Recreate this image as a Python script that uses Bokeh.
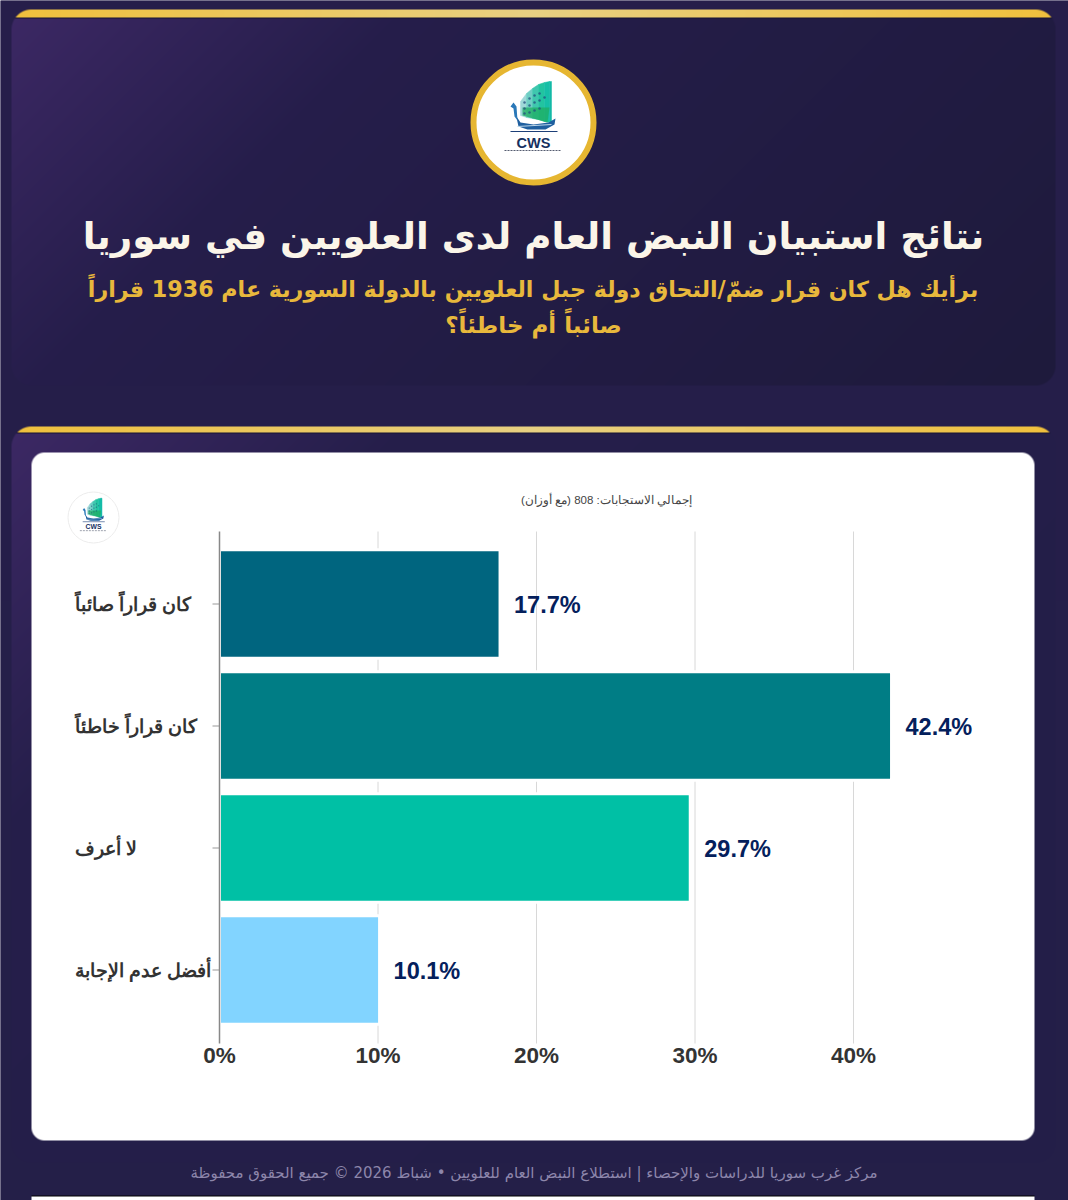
import numpy as np
from bokeh.core.properties import value
from bokeh.plotting import figure
from bokeh.models import LinearAxis, FixedTicker, Range1d, ColumnDataSource
from bokeh.embed import file_html
from bokeh.resources import INLINE

# ---- data ----
categories = ["كان قراراً صائباً", "كان قراراً خاطئاً", "لا أعرف", "أفضل عدم الإجابة"]
values = [17.7, 42.4, 29.7, 10.1]
bar_colors = ["#00657f", "#007d85", "#00c0a5", "#82d4ff"]
tick_values = [0, 10, 20, 30, 40]
tick_labels = ["0%", "10%", "20%", "30%", "40%"]
title_text = "نتائج استبيان النبض العام لدى العلويين في سوريا"
subtitle_1 = "برأيك هل كان قرار ضمّ/التحاق دولة جبل العلويين بالدولة السورية عام 1936 قراراً"
subtitle_2 = "صائباً أم خاطئاً؟"
responses_text = "إجمالي الاستجابات: 808 (مع أوزان)"
footer_text = "مركز غرب سوريا للدراسات والإحصاء | استطلاع النبض العام للعلويين • شباط 2026 © جميع الحقوق محفوظة"

# ---- page geometry (page pixels) ----
W, H = 1068, 1200
PX_PER_X = 15.85
PX_PER_ROW = 122
X0_PX = 219
LAST_ROW_PX = 969.5
def X(px): return (px - X0_PX) / PX_PER_X
def Y(py): return (LAST_ROW_PX - py) / PX_PER_ROW

p = figure(width=W, height=H, output_backend="svg", toolbar_location=None,
           x_range=Range1d(X(0), X(W)), y_range=Range1d(Y(H), Y(0)),
           x_axis_type=None, y_axis_type=None, min_border=0, outline_line_color=None,
           background_fill_color="#261e4a", border_fill_color="#261e4a")
p.grid.visible = False

# ---- decorative backdrop ----
yy, xx = np.mgrid[0:H, 0:W] + 0.5
def rrect(x0, y0, x1, y1, r):
    cx, cy = (x0 + x1) / 2, (y0 + y1) / 2
    qx = np.abs(xx - cx) - ((x1 - x0) / 2 - r)
    qy = np.abs(yy - cy) - ((y1 - y0) / 2 - r)
    d = np.hypot(np.maximum(qx, 0), np.maximum(qy, 0)) + np.minimum(np.maximum(qx, qy), 0) - r
    return np.clip(0.5 - d, 0, 1)
v = (yy / H)[..., None]
img = np.array([38, 30, 74]) * (1 - v) + np.array([36, 31, 72]) * v
def over(mask, col):
    global img
    img = img * (1 - mask[..., None]) + col * mask[..., None]
def panel(x0, y0, x1, y1, bar_h, mid, end):
    m = rrect(x0, y0, x1, y1, 20)
    d = (xx - x0) + (yy - y0)
    t = np.clip(d / 400, 0, 1)[..., None]
    t2 = np.clip((d - 400) / 980, 0, 1)[..., None]
    col = (np.array([60, 40, 100]) * (1 - t) + np.array(mid) * t) * (1 - t2) + np.array(end) * t2
    over(m, col)
    over(m * np.clip(y0 + bar_h + 1.5 - yy, 0, 1), np.array([24, 20, 50]))
    u = np.abs((xx - (x0 + x1) / 2) / ((x1 - x0) / 2))[..., None]
    gold = np.array([232, 208, 130]) * (1 - u) + np.array([240, 192, 60]) * u
    over(m * np.clip(y0 + bar_h + .5 - yy, 0, 1), gold)
panel(11, 9, 1055, 385, 8, (37, 29, 74), (30, 26, 60))
panel(11, 426, 1055, 1162, 6, (37, 30, 74), (35, 30, 72))
over(rrect(31, 452, 1034, 1140, 13), np.array([255, 255, 255]))
over(rrect(31, 1195, 1034, 1196, 0), np.array([0, 0, 0]))
over(rrect(31, 1196, 1034, 1200, 0), np.array([255, 255, 255]))
rgba = np.dstack([img, np.full((H, W), 255.0)]).round().astype(np.uint8)[::-1]
p.image_rgba(image=[rgba.view(np.uint32).reshape(H, W)], x=X(0), y=Y(H),
             dw=W / PX_PER_X, dh=H / PX_PER_ROW)

# ---- logo drawn with glyphs ----
def logo(cx, cy, s, ring_size, ring_color, ring_width):
    p.scatter([X(cx)], [Y(cy)], size=ring_size, fill_color="white",
              line_color=ring_color, line_width=ring_width)
    def pt(x, y): return [X(cx + v * s) for v in x], [Y(cy + v * s) for v in y]
    strips = ["#9fd8d8", "#6fcfc4", "#3fc7ae", "#22c4a0", "#16bfa6", "#12b9a6"]
    edges_x = [-13, -7, -1, 5, 11, 16, 18]
    top = [-21, -29, -34, -38, -40, -41, -41]
    bot = [-7, -5, -4, -3, -1, 0, 0]
    for i, c in enumerate(strips):
        xs, ys = pt([edges_x[i], edges_x[i + 1], edges_x[i + 1], edges_x[i]],
                    [top[i], top[i + 1], bot[i + 1], bot[i]])
        p.patch(xs, ys, fill_color=c, line_color=c, line_width=0.5)
    xs, ys = pt([-11, 16, 14, -11], [-15, -15, 0, -7])
    p.patch(xs, ys, fill_color="#1fae62", line_color=None, fill_alpha=0.75)
    dx = np.array([-9, -4, 1, 6, -9, -4, 1, 6, 11, -9, -4, 1, 6])
    dy = np.array([-20, -24, -27, -29, -14, -17, -20, -22, -25, -9, -10, -12, -14])
    xs, ys = pt(dx, dy)
    p.scatter(xs, ys, size=max(1.2, 2.5 * s), fill_color="#21507f", line_color=None, fill_alpha=0.75)
    xs, ys = pt([-19, -17, -13, 0, 15, 22, 21, 12, -6, -15],
                [-14, -6, 0, 2, 0, -4, 2, 7, 7, 4])
    p.patch(xs, ys, fill_color="#1f5f9f", line_color=None)
    xs, ys = pt([-23, -20, -17, -16, -19, -20], [-16, -20, -16, -2, -6, -14])
    p.patch(xs, ys, fill_color="#2a78b8", line_color=None)
    xs, ys = pt([-16, 18], [4, 2])
    p.line(xs, ys, line_color="#bcd7ea", line_width=max(0.4, 1 * s))
    xs, ys = pt([-23, 24], [9, 9])
    p.line(xs, ys, line_color="#1d3f78", line_width=max(0.6, 1.2 * s))
    p.text([X(cx)], [Y(cy + 20 * s)], text=["CWS"], text_align="center", text_baseline="middle",
           text_font=value("Liberation Sans"), text_font_style="bold",
           text_font_size=f"{14.5 * s:.1f}px", text_color="#16305f")
    xs, ys = pt([-29, 28], [28, 28])
    p.line(xs, ys, line_color="#555c70", line_width=max(0.5, 1.2 * s), line_dash=[2, 1])

logo(533, 122, 1.0, 120, "#e6b631", 6)
logo(93, 517, 0.47, 51, "#ececec", 1)

# ---- header / footer texts ----
def page_text(x, y, s, size, color, font, style="normal", align="center"):
    p.text([X(x)], [Y(y)], text=[s], text_align=align, text_baseline="middle",
           text_font=value(font), text_font_style=style, text_font_size=size, text_color=color)
page_text(533, 235, title_text, "37.2px", "#fbf5e9", "DejaVu Sans", "bold")
page_text(532.5, 288, subtitle_1, "22.2px", "#e8b83c", "DejaVu Sans", "bold")
page_text(533, 324, subtitle_2, "23px", "#e8b83c", "DejaVu Sans", "bold")
page_text(606, 499, responses_text, "11.5px", "#444444", "Liberation Sans")
page_text(533.5, 1172, footer_text, "15px", "#8d86ab", "DejaVu Sans")

# ---- chart ----
positions = list(range(len(categories) - 1, -1, -1))
source = ColumnDataSource(dict(y=positions, value=values, color=bar_colors, cat=categories,
                               label=[f"{v}%" for v in values]))
p.segment(x0=tick_values[1:], x1=tick_values[1:], y0=Y(1043), y1=Y(531),
          line_color="#d8d8d8", line_width=1)
p.hbar(y="y", left=0, right="value", height=108.5 / PX_PER_ROW, fill_color="color",
       line_color="white", line_width=3, source=source)
p.text(x="value", y="y", text="label", x_offset=14, y_offset=1, text_align="left", text_baseline="middle",
       text_font=value("Liberation Sans"), text_font_style="bold", text_font_size="23.5px",
       text_color="#04205c", source=source)
p.text(x=X(74.5), y="y", text="cat", text_align="left", text_baseline="middle",
       text_font=value("Liberation Sans"), text_font_style="bold", text_font_size="18.5px",
       text_color="#333333", source=source)
p.segment(x0=X(212), x1=0, y0=positions, y1=positions, line_color="#999999", line_width=1)

xaxis = LinearAxis(fixed_location=Y(1039), ticker=FixedTicker(ticks=tick_values),
                   major_label_overrides=dict(zip(tick_values, tick_labels)),
                   axis_line_color=None, major_tick_line_color=None, minor_tick_line_color=None,
                   major_tick_out=0, major_tick_in=0, major_label_standoff=3,
                   major_label_text_font="Liberation Sans", major_label_text_font_style="bold",
                   major_label_text_font_size="22.5px", major_label_text_color="#333333")
p.add_layout(xaxis, "below")
yaxis = LinearAxis(fixed_location=0, ticker=FixedTicker(ticks=[]), bounds=(Y(1043), Y(531)),
                   axis_line_color="#888888", axis_line_width=1.5,
                   major_tick_line_color=None, minor_tick_line_color=None)
p.add_layout(yaxis, "left")

open("out.html", "w").write(file_html(p, INLINE))
